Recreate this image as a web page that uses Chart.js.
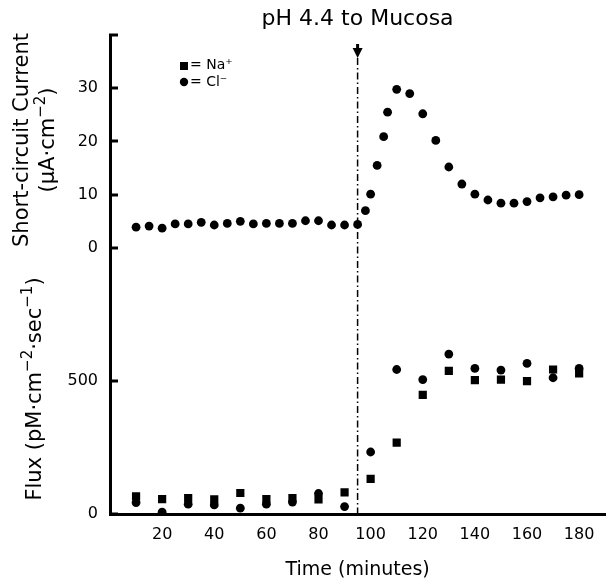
<!DOCTYPE html>
<html>
<head>
<meta charset="utf-8">
<script src="https://cdn.jsdelivr.net/npm/chart.js@4.4.0/dist/chart.umd.min.js"></script>
<style>
  html, body { margin: 0; padding: 0; background: #fff; }
</style>
</head>
<body>
<canvas id="chart" width="611" height="582"></canvas>
<script>
// short-circuit current (top panel)
const iscTimes = [10, 15, 20, 25, 30, 35, 40, 45, 50, 55, 60, 65, 70, 75, 80, 85, 90, 95,
    98, 100, 102.5, 105, 106.5, 110,
    115, 120, 125, 130, 135, 140, 145, 150, 155, 160, 165, 170, 175, 180];
const iscValues = [3.9, 4.1, 3.7, 4.5, 4.5, 4.8, 4.3, 4.6, 5.0, 4.5, 4.6, 4.6, 4.6, 5.1, 5.1, 4.3, 4.3, 4.4,
    7.0, 10.1, 15.5, 20.9, 25.5, 29.8,
    29.0, 25.2, 20.2, 15.2, 12.0, 10.1, 9.0, 8.4, 8.4, 8.7, 9.4, 9.6, 9.9, 10.0];

// unidirectional fluxes (bottom panel)
const fluxTimes = [10, 20, 30, 40, 50, 60, 70, 80, 90, 100, 110, 120, 130, 140, 150, 160, 170, 180];
const naFlux = [66, 56, 60, 55, 79, 56, 60, 55, 81, 132, 268, 448, 538, 503, 505, 499, 543, 528];
const clFlux = [43, 7, 37, 34, 22, 37, 45, 77, 28, 233, 543, 505, 601, 547, 541, 566, 512, 547];

const xTicks = [20, 40, 60, 80, 100, 120, 140, 160, 180];
const iscTicks = [0, 10, 20, 30, 40];
const fluxTicks = [0, 500];
const pHTime = 95;

const FONT = "'DejaVu Sans', sans-serif";
Chart.defaults.font.family = FONT;
Chart.defaults.color = '#000';

const toPoints = (xs, ys) => xs.map((x, i) => ({ x, y: ys[i] }));
const setTicks = (values) => (scale) => { scale.ticks = values.map(v => ({ value: v })); };

// text with raised superscript parts, centred on (cx, cy) in the current transform
function richText(ctx, parts, cx, cy, size) {
    const big = size + 'px ' + FONT;
    const small = Math.round(size * 0.7) + 'px ' + FONT;
    const widths = parts.map(([t, sup]) => { ctx.font = sup ? small : big; return ctx.measureText(t).width; });
    let x = cx - widths.reduce((a, b) => a + b, 0) / 2;
    ctx.textAlign = 'left';
    ctx.textBaseline = 'middle';
    parts.forEach(([t, sup], i) => {
        ctx.font = sup ? small : big;
        ctx.fillText(t, x, cy - (sup ? size * 0.38 : 0));
        x += widths[i];
    });
}

const extras = {
    id: 'extras',
    afterDraw(chart) {
        const { ctx, chartArea } = chart;
        const x = chart.scales.x.getPixelForValue(pHTime);
        const tip = chartArea.top + 23;
        ctx.save();
        ctx.strokeStyle = '#000';
        ctx.fillStyle = '#000';

        // inward tick marks on the left axes
        [['yIsc', iscTicks], ['yFlux', fluxTicks]].forEach(([id, values]) => {
            const s = chart.scales[id];
            values.forEach(v => {
                const py = Math.round(s.getPixelForValue(v));
                ctx.fillRect(chartArea.left - 1, py - 1.5, 9, 3);
            });
        });

        // dash-dot marker for pH change
        ctx.lineWidth = 1.5;
        ctx.setLineDash([7, 3, 1.5, 3]);
        ctx.beginPath();
        ctx.moveTo(x, tip);
        ctx.lineTo(x, chartArea.bottom);
        ctx.stroke();
        ctx.setLineDash([]);

        // arrow
        ctx.fillRect(x - 1.5, tip - 14, 3, 5);
        ctx.beginPath();
        ctx.moveTo(x - 5, tip - 10);
        ctx.lineTo(x + 5, tip - 10);
        ctx.lineTo(x, tip);
        ctx.closePath();
        ctx.fill();

        // key
        const kx = chartArea.left + 74;
        ctx.fillRect(kx - 4, chartArea.top + 27, 8, 8);
        ctx.beginPath();
        ctx.arc(kx, chartArea.top + 47, 4.2, 0, Math.PI * 2);
        ctx.fill();
        ctx.font = '14px ' + FONT;
        ctx.textBaseline = 'middle';
        ctx.textAlign = 'left';
        ctx.fillText('= Na⁺', kx + 6, chartArea.top + 30);
        ctx.fillText('= Cl⁻', kx + 6, chartArea.top + 47);

        // y axis titles
        const rot = (parts, tx, ty) => {
            ctx.save();
            ctx.translate(tx, ty);
            ctx.rotate(-Math.PI / 2);
            richText(ctx, parts, 0, 0, 21);
            ctx.restore();
        };
        rot([['Short-circuit Current']], 23, chartArea.top + 105);
        rot([['(μA·cm'], ['−2', true], [')']], 49, chartArea.top + 105);
        rot([['Flux (pM·cm'], ['−2', true], ['·sec'], ['−1', true], [')']], 36, chartArea.bottom - 125);
        ctx.restore();
    }
};

new Chart(document.getElementById('chart'), {
    type: 'scatter',
    data: {
        datasets: [
            {
                label: 'Isc',
                data: toPoints(iscTimes, iscValues),
                yAxisID: 'yIsc',
                pointStyle: 'circle',
                pointRadius: 4.4,
                backgroundColor: '#000',
                borderWidth: 0
            },
            {
                label: 'Na+',
                data: toPoints(fluxTimes, naFlux),
                yAxisID: 'yFlux',
                pointStyle: 'rect',
                pointRadius: 5.8,
                backgroundColor: '#000',
                borderWidth: 0
            },
            {
                label: 'Cl-',
                data: toPoints(fluxTimes, clFlux),
                yAxisID: 'yFlux',
                pointStyle: 'circle',
                pointRadius: 4.4,
                backgroundColor: '#000',
                borderWidth: 0
            }
        ]
    },
    options: {
        responsive: false,
        animation: false,
        layout: { padding: { top: 0, right: 2, bottom: 0, left: 0 } },
        plugins: {
            legend: { display: false },
            tooltip: { enabled: false },
            title: {
                display: true,
                text: 'pH 4.4 to Mucosa',
                fullSize: false,
                font: { size: 22, weight: 'normal' },
                padding: { top: 6, bottom: 2.6 }
            }
        },
        scales: {
            x: {
                type: 'linear',
                min: 0,
                max: 190,
                afterBuildTicks: setTicks(xTicks),
                grid: { display: false, drawTicks: false },
                border: { color: '#000', width: 3 },
                ticks: { font: { size: 16 }, padding: 11 },
                title: {
                    display: true,
                    text: 'Time (minutes)',
                    font: { size: 19 },
                    padding: { top: 3, bottom: 1 }
                }
            },
            // listed bottom-first: stacked boxes are laid out from the bottom up
            yFlux: {
                type: 'linear',
                position: 'left',
                stack: 'left',
                stackWeight: 4,
                min: 0,
                max: 800,
                afterBuildTicks: setTicks(fluxTicks),
                afterFit: (scale) => { scale.width = 110; },
                grid: { display: false, drawTicks: false },
                border: { color: '#000', width: 3 },
                ticks: { font: { size: 16 }, padding: 12 }
            },
            yIsc: {
                type: 'linear',
                position: 'left',
                stack: 'left',
                stackWeight: 5,
                min: -10,
                max: 40,
                afterBuildTicks: setTicks(iscTicks),
                afterFit: (scale) => { scale.width = 110; },
                grid: { display: false, drawTicks: false },
                border: { color: '#000', width: 3 },
                ticks: {
                    font: { size: 16 },
                    padding: 12,
                    callback: (v) => (v === 40 ? '' : v)
                }
            }
        }
    },
    plugins: [extras]
});
</script>
</body>
</html>
